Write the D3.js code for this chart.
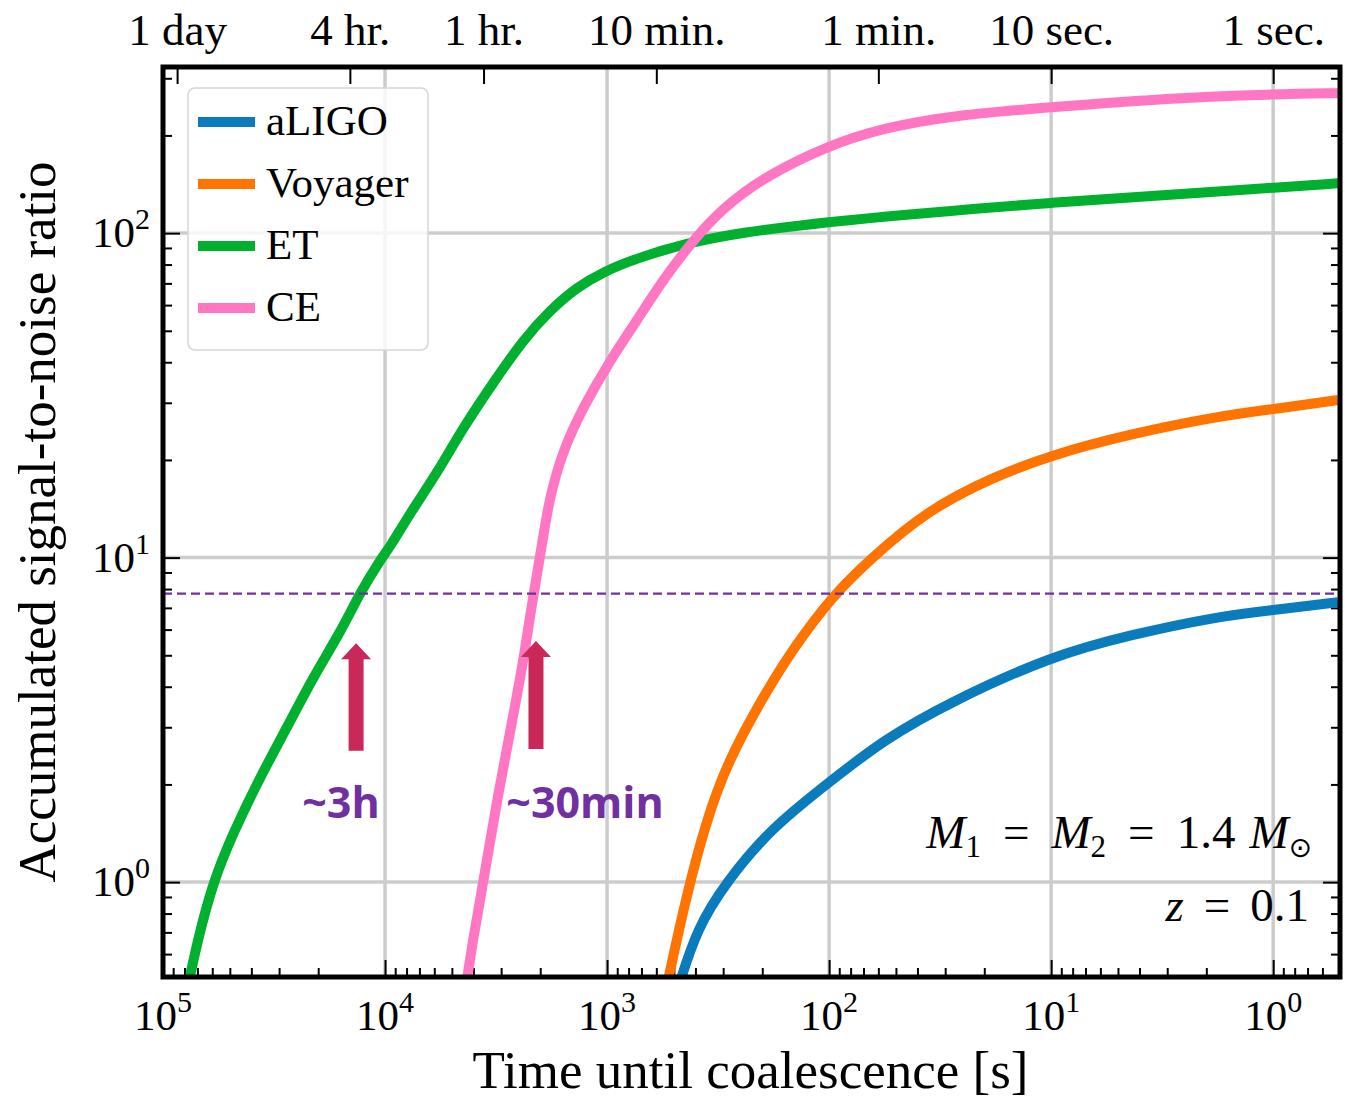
<!DOCTYPE html>
<html>
<head>
<meta charset="utf-8">
<script src="https://cdn.jsdelivr.net/npm/d3@7"></script>
<style>
  html, body { margin: 0; padding: 0; background: #ffffff; }
  svg { display: block; }
</style>
</head>
<body>
<svg id="chart" width="1345" height="1099"></svg>
<script>
// ---------------- data ----------------
const categories = ["aLIGO", "Voyager", "ET", "CE"];
const seriesColors = ["#0a7bbb", "#ff7300", "#00b02e", "#ff77c3"];

// time until coalescence [s] and accumulated SNR
const aligoT   = [474, 393, 291, 182, 100, 57.1, 28.5, 10, 4.46, 1.75, 1.0, 0.51];
const aligoSNR = [0.482, 0.721, 1.0, 1.47, 2.03, 2.74, 3.59, 4.97, 5.77, 6.60, 6.89, 7.29];

const voyagerT   = [537, 441, 358, 288, 200, 145, 95.9, 66.1, 36.2, 17.9, 10, 4.46, 1.75, 0.99, 0.51];
const voyagerSNR = [0.482, 0.899, 1.54, 2.33, 3.69, 5.26, 7.66, 9.82, 14.0, 17.8, 20.7, 24.0, 27.3, 28.7, 30.6];

const etT   = [77000, 70300, 59600, 48400, 36500, 27600, 21100, 15960, 12970, 10540, 9480, 7710, 5830, 4450, 3130, 2390, 1806, 1365, 1042, 733, 437, 259, 98.9, 10, 1, 0.5];
const etSNR = [0.482, 0.649, 1.0, 1.415, 2.11, 3.0, 4.28, 5.85, 7.78, 9.82, 10.8, 13.7, 18.2, 25.2, 36.0, 46.8, 57.9, 68.2, 75.9, 83.8, 93.1, 100, 108.9, 124.6, 137.7, 142.6];

const ceT   = [4315, 4020, 3730, 3475, 3130, 2680, 2365, 2150, 1982, 1830, 1590, 1282, 968, 733, 560, 423, 303, 190, 100, 57.1, 27.3, 10, 2.94, 1, 0.5];
const ceSNR = [0.482, 0.662, 0.881, 1.17, 1.79, 3.11, 4.94, 7.66, 10.5, 15.0, 21.2, 29.1, 40.6, 53.9, 71.7, 92.5, 119.4, 151, 186.6, 210.9, 231, 244.4, 260.7, 268, 270];

// axes tick labels
const xMajorTicks = [1e5, 1e4, 1e3, 1e2, 1e1, 1e0];
const xMajorExp = ["5", "4", "3", "2", "1", "0"];
const yMajorTicks = [1, 10, 100];
const yMajorExp = ["0", "1", "2"];
const topTickValues = [86400, 14400, 3600, 600, 60, 10, 1];
const topTickLabels = ["1 day", "4 hr.", "1 hr.", "10 min.", "1 min.", "10 sec.", "1 sec."];

// detection threshold and annotations
const thresholdSNR = 7.75;
const arrowT = [13500, 2090];
const arrowTipSNR = [5.45, 5.53];
const arrowBaseSNR = [2.54, 2.57];
const arrowLabels = ["~3h", "~30min"];

// ---------------- layout ----------------
const L = 163, R = 1340, T = 67, B = 977;
const svg = d3.select("#chart");
const serif = "'Liberation Serif', 'DejaVu Serif', serif";

const x = d3.scaleLog().domain([1e5, 0.5]).range([L, R]);
const y = d3.scaleLog().domain([0.51, 325]).range([B, T]);

function minorTicks(lo, hi) {
  const out = [];
  for (let e = Math.floor(Math.log10(lo)); e <= Math.ceil(Math.log10(hi)); e++) {
    for (let k = 2; k <= 9; k++) {
      const v = k * Math.pow(10, e);
      if (v >= lo && v <= hi) out.push(v);
    }
  }
  return out;
}
const xMinor = minorTicks(0.5, 1e5);
const yMinor = minorTicks(0.51, 325);

svg.append("defs").append("clipPath").attr("id", "plotclip")
  .append("rect").attr("x", L).attr("y", T).attr("width", R - L).attr("height", B - T);

// grid
const grid = svg.append("g");
grid.selectAll("line.gx").data(xMajorTicks.filter(v => v < 1e5)).enter().append("line")
  .attr("x1", d => x(d)).attr("x2", d => x(d)).attr("y1", T).attr("y2", B)
  .attr("stroke", "#cccccc").attr("stroke-width", 3.5);
grid.selectAll("line.gy").data(yMajorTicks).enter().append("line")
  .attr("x1", L).attr("x2", R).attr("y1", d => y(d)).attr("y2", d => y(d))
  .attr("stroke", "#cccccc").attr("stroke-width", 3.5);

// ticks (inward) with d3 axes
function tickAxis(axisFn, scale, values, size, transform) {
  const g = svg.append("g").attr("transform", transform)
    .call(axisFn(scale).tickValues(values).tickSize(-size).tickFormat(""));
  g.select(".domain").remove();
  g.selectAll(".tick line").attr("stroke", "#000").attr("stroke-width", 2);
  return g;
}
tickAxis(d3.axisBottom, x, xMajorTicks, 17, `translate(0,${B})`);
tickAxis(d3.axisBottom, x, xMinor, 9, `translate(0,${B})`);
tickAxis(d3.axisLeft, y, yMajorTicks, 17, `translate(${L},0)`);
tickAxis(d3.axisLeft, y, yMinor, 9, `translate(${L},0)`);
tickAxis(d3.axisRight, y, yMajorTicks, 17, `translate(${R},0)`);
tickAxis(d3.axisRight, y, yMinor, 9, `translate(${R},0)`);

// top axis with time labels
const topAxis = svg.append("g").attr("transform", `translate(0,${T})`)
  .call(d3.axisTop(x).tickValues(topTickValues).tickSize(-17).tickPadding(22)
    .tickFormat((d, i) => topTickLabels[i]));
topAxis.select(".domain").remove();
topAxis.selectAll(".tick line").attr("stroke", "#000").attr("stroke-width", 2);
topAxis.selectAll(".tick text").attr("font-family", serif).attr("font-size", 45).attr("fill", "#000");

// curves
const seriesT = [aligoT, voyagerT, etT, ceT];
const seriesS = [aligoSNR, voyagerSNR, etSNR, ceSNR];
const line = d3.line().x(d => x(d[0])).y(d => y(d[1])).curve(d3.curveBasis);
const curves = svg.append("g").attr("clip-path", "url(#plotclip)");
categories.forEach((c, i) => {
  const pts = seriesT[i].map((t, j) => [t, seriesS[i][j]]);
  curves.append("path").datum(pts).attr("d", line)
    .attr("fill", "none").attr("stroke", seriesColors[i]).attr("stroke-width", 10)
    .attr("stroke-linejoin", "round");
});

// threshold dashed line
svg.append("line").attr("x1", L).attr("x2", R)
  .attr("y1", y(thresholdSNR)).attr("y2", y(thresholdSNR))
  .attr("stroke", "#7030a0").attr("stroke-width", 2.2).attr("stroke-dasharray", "9,5");

// arrows
arrowT.forEach((t, i) => {
  const cx = x(t), tip = y(arrowTipSNR[i]), base = y(arrowBaseSNR[i]);
  const sw = 7.5, hw = 15, hh = 16;
  const p = d3.path();
  p.moveTo(cx - sw, base); p.lineTo(cx - sw, tip + hh); p.lineTo(cx - hw, tip + hh);
  p.lineTo(cx, tip); p.lineTo(cx + hw, tip + hh); p.lineTo(cx + sw, tip + hh);
  p.lineTo(cx + sw, base); p.closePath();
  svg.append("path").attr("d", p.toString()).attr("fill", "#c92858");
});
const arrowLabelX = [341, 585];
arrowLabels.forEach((lab, i) => {
  svg.append("text").attr("x", arrowLabelX[i]).attr("y", 818)
    .attr("text-anchor", "middle").attr("font-family", "'Open Sans', sans-serif")
    .attr("font-weight", 700).attr("font-size", 43).attr("fill", "#7030a0").text(lab);
});

// frame
svg.append("rect").attr("x", L).attr("y", T).attr("width", R - L).attr("height", B - T)
  .attr("fill", "none").attr("stroke", "#000").attr("stroke-width", 5);

// bottom tick labels
xMajorTicks.forEach((v, i) => {
  const t = svg.append("text").attr("x", x(v)).attr("y", 1030)
    .attr("text-anchor", "middle").attr("font-family", serif).attr("font-size", 43).attr("fill", "#000");
  t.append("tspan").text("10");
  t.append("tspan").attr("font-size", 30).attr("dy", -18).text(xMajorExp[i]);
});
// left tick labels
yMajorTicks.forEach((v, i) => {
  const t = svg.append("text").attr("x", 150).attr("y", y(v) + 14)
    .attr("text-anchor", "end").attr("font-family", serif).attr("font-size", 43).attr("fill", "#000");
  t.append("tspan").text("10");
  t.append("tspan").attr("font-size", 30).attr("dy", -18).text(yMajorExp[i]);
});

// axis titles
svg.append("text").attr("x", (L + R) / 2 - 1).attr("y", 1088).attr("text-anchor", "middle")
  .attr("font-family", serif).attr("font-size", 53).attr("fill", "#000")
  .text("Time until coalescence [s]");
svg.append("text").attr("transform", "translate(55,522) rotate(-90)").attr("text-anchor", "middle")
  .attr("font-family", serif).attr("font-size", 53).attr("fill", "#000")
  .text("Accumulated signal-to-noise ratio");

// parameter annotations
const ann = svg.append("text").attr("x", 1312).attr("y", 848).attr("text-anchor", "end")
  .attr("font-family", serif).attr("font-size", 47).attr("fill", "#000");
ann.append("tspan").attr("font-style", "italic").text("M");
ann.append("tspan").attr("font-size", 31).attr("dy", 9).text("1");
ann.append("tspan").attr("dy", -9).attr("dx", 22).text("=");
ann.append("tspan").attr("dx", 22).attr("font-style", "italic").text("M");
ann.append("tspan").attr("font-size", 31).attr("dy", 9).text("2");
ann.append("tspan").attr("dy", -9).attr("dx", 22).text("=");
ann.append("tspan").attr("dx", 22).text("1.4");
ann.append("tspan").attr("dx", 14).attr("font-style", "italic").text("M");
ann.append("tspan").attr("font-size", 28).attr("dy", 9).attr("font-family", "'DejaVu Sans', sans-serif").text("\u2299");
const ann2 = svg.append("text").attr("x", 1309).attr("y", 921).attr("text-anchor", "end")
  .attr("font-family", serif).attr("font-size", 47).attr("fill", "#000");
ann2.append("tspan").attr("font-style", "italic").text("z");
ann2.append("tspan").attr("dx", 20).text("=");
ann2.append("tspan").attr("dx", 20).text("0.1");

// legend
const lg = svg.append("g");
lg.append("rect").attr("x", 188).attr("y", 88).attr("width", 240).attr("height", 262).attr("rx", 7)
  .attr("fill", "#ffffff").attr("fill-opacity", 0.82).attr("stroke", "#d6d6d6").attr("stroke-width", 1.5);
const legendY = d3.scalePoint().domain(categories).range([122, 308]);
categories.forEach((c, i) => {
  lg.append("line").attr("x1", 198).attr("x2", 255).attr("y1", legendY(c)).attr("y2", legendY(c))
    .attr("stroke", seriesColors[i]).attr("stroke-width", 10);
  lg.append("text").attr("x", 266).attr("y", legendY(c) + 13).attr("font-family", serif)
    .attr("font-size", 43).attr("fill", "#000").text(c);
});
</script>
</body>
</html>
